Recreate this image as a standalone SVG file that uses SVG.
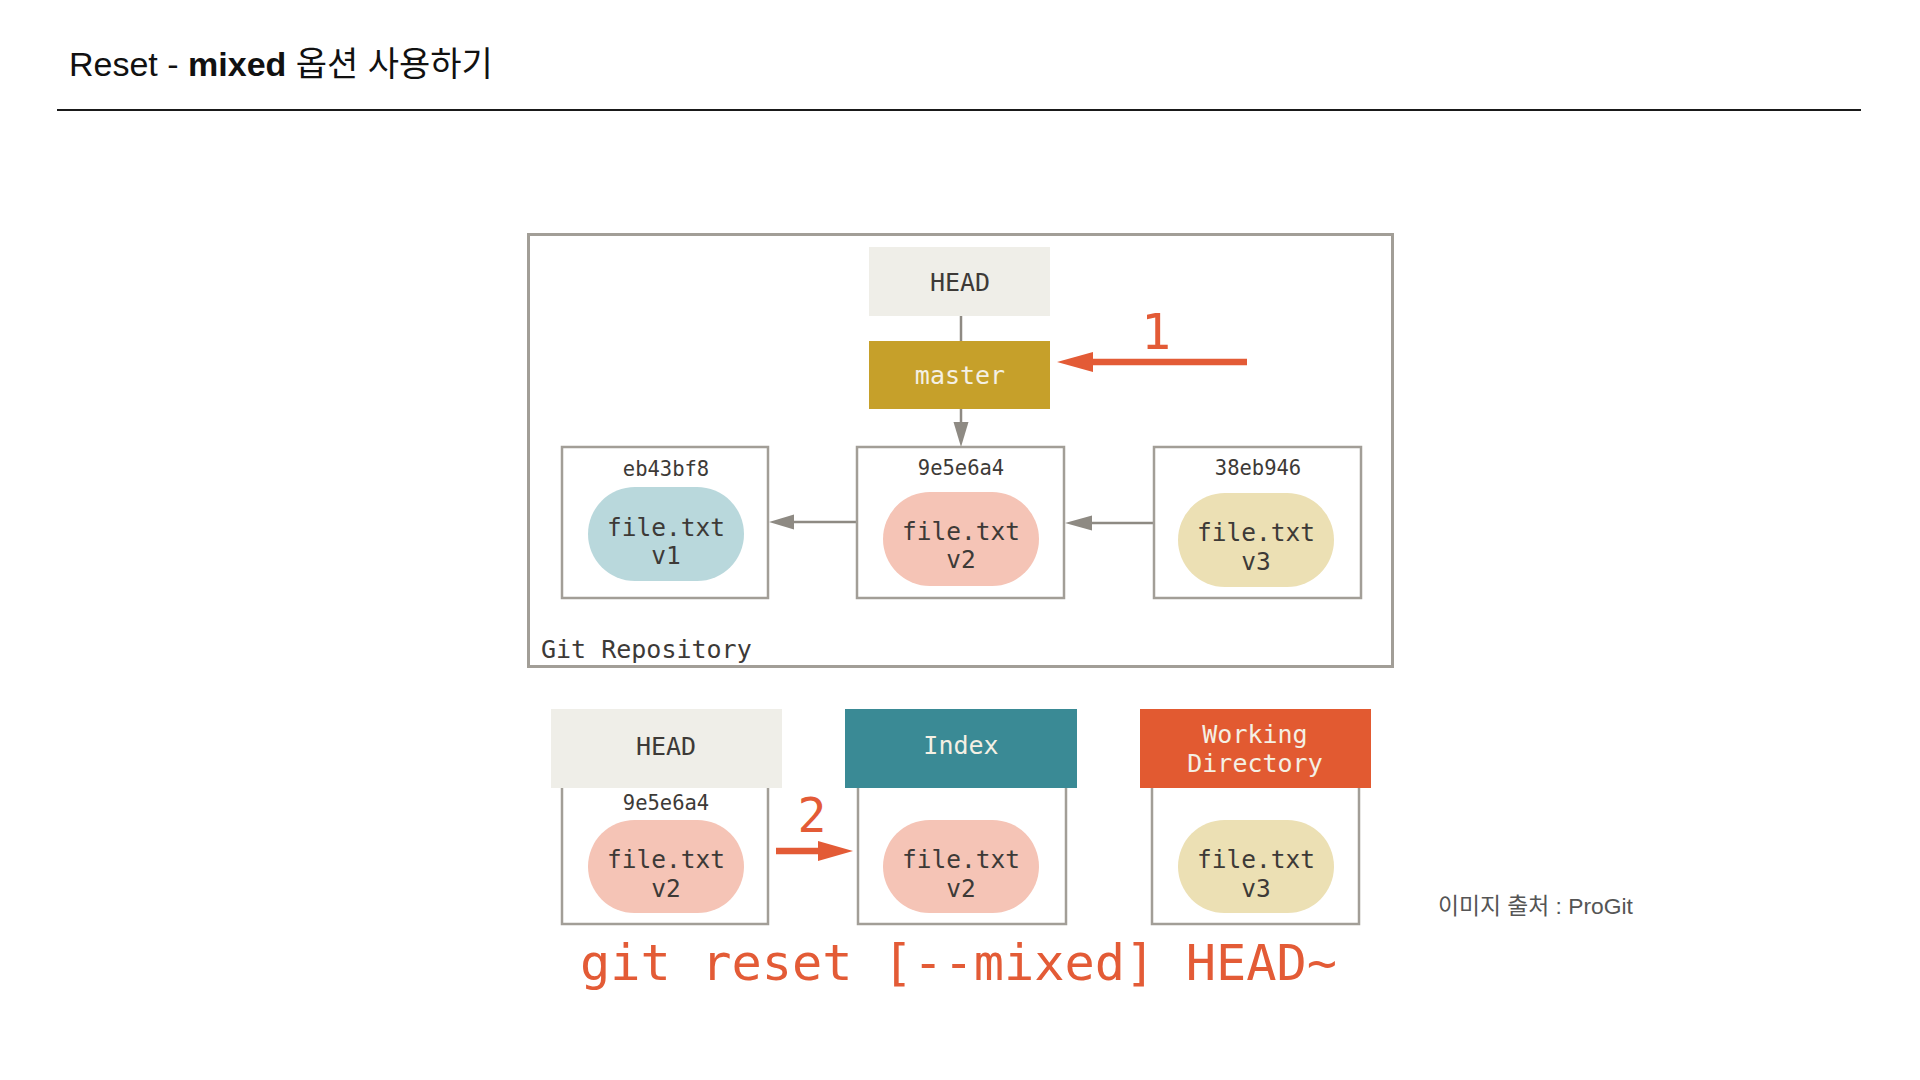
<svg xmlns="http://www.w3.org/2000/svg" width="1920" height="1080" viewBox="0 0 1920 1080">
  <style>
    .mono { font-family: "DejaVu Sans Mono", "Liberation Mono", monospace; }
    .lbl { font-size: 25px; fill: #3d3a37; text-anchor: middle; }
    .hash { font-size: 20.5px; fill: #3d3a37; text-anchor: middle; }
    .file { font-size: 24.5px; fill: #3d3a37; text-anchor: middle; }
    .box { fill: #ffffff; stroke: #a29e97; stroke-width: 2.5; }
    .conn { stroke: #8e8a83; stroke-width: 2.5; fill: none; }
    .head { fill: #8e8a83; }
    .red { fill: #e35b36; }
    .redline { stroke: #e35b36; stroke-width: 6.5; fill: none; }
  </style>
  <rect width="1920" height="1080" fill="#ffffff"/>

  <g id="title">
    <text x="69" y="76" font-family="'Liberation Sans', 'Noto Sans CJK KR', sans-serif" font-size="34" fill="#111111">Reset - <tspan font-weight="bold">mixed</tspan> 옵션 사용하기</text>
    <line x1="57" y1="110" x2="1861" y2="110" stroke="#1a1a1a" stroke-width="2"/>
  </g>

  <g id="git-repository">
    <rect x="528.5" y="234.5" width="864" height="432" fill="#ffffff" stroke="#a29e97" stroke-width="3"/>
    <text class="mono lbl" x="541" y="658" style="text-anchor:start">Git Repository</text>
  </g>

  <g id="connectors">
    <line class="conn" x1="961" y1="316" x2="961" y2="341"/>
    <line class="conn" x1="961" y1="409" x2="961" y2="425"/>
    <polygon class="head" points="953.5,422 968.5,422 961,447"/>
    <line class="conn" x1="857" y1="522" x2="790" y2="522"/>
    <polygon class="head" points="769,522 794,514.5 794,529.5"/>
    <line class="conn" x1="1154" y1="523" x2="1088" y2="523"/>
    <polygon class="head" points="1065,523 1092,515.5 1092,530.5"/>
    <line class="redline" x1="1247" y1="362" x2="1088" y2="362"/>
    <polygon class="red" points="1057,362 1093,352 1093,372"/>
    <line class="redline" x1="776" y1="851" x2="822" y2="851"/>
    <polygon class="red" points="853,851 818,841 818,861"/>
  </g>

  <g id="step-1">
    <text class="mono" x="1156" y="349" font-size="50" fill="#e35b36" text-anchor="middle">1</text>
  </g>
  <g id="step-2">
    <text class="mono" x="812" y="832" font-size="48" fill="#e35b36" text-anchor="middle">2</text>
  </g>

  <g id="head-ref">
    <rect x="869" y="247" width="181" height="69" fill="#efeee8"/>
    <text class="mono lbl" x="960" y="291">HEAD</text>
  </g>

  <g id="master">
    <rect x="869" y="341" width="181" height="68" fill="#c6a02a"/>
    <text class="mono lbl" x="960" y="384" style="fill:#f4f0e4">master</text>
  </g>

  <g id="commit-eb43bf8">
    <rect class="box" x="562" y="447" width="206" height="151"/>
    <text class="mono hash" x="666" y="476">eb43bf8</text>
    <rect x="588" y="487" width="156" height="94" rx="47" fill="#b9d8dc"/>
    <text class="mono file" x="666" y="536">file.txt</text>
    <text class="mono file" x="666" y="564">v1</text>
  </g>

  <g id="commit-9e5e6a4">
    <rect class="box" x="857" y="447" width="207" height="151"/>
    <text class="mono hash" x="961" y="475">9e5e6a4</text>
    <rect x="883" y="492" width="156" height="94" rx="47" fill="#f5c4b6"/>
    <text class="mono file" x="961" y="540">file.txt</text>
    <text class="mono file" x="961" y="568">v2</text>
  </g>

  <g id="commit-38eb946">
    <rect class="box" x="1154" y="447" width="207" height="151"/>
    <text class="mono hash" x="1258" y="475">38eb946</text>
    <rect x="1178" y="493" width="156" height="94" rx="47" fill="#ece0b4"/>
    <text class="mono file" x="1256" y="541">file.txt</text>
    <text class="mono file" x="1256" y="570">v3</text>
  </g>

  <g id="head-tree">
    <rect class="box" x="562" y="780" width="206" height="144"/>
    <rect x="551" y="709" width="231" height="79" fill="#efeee8"/>
    <text class="mono lbl" x="666" y="755">HEAD</text>
    <text class="mono hash" x="666" y="810">9e5e6a4</text>
    <rect x="588" y="820" width="156" height="93" rx="46.5" fill="#f5c4b6"/>
    <text class="mono file" x="666" y="868">file.txt</text>
    <text class="mono file" x="666" y="897">v2</text>
  </g>

  <g id="index">
    <rect class="box" x="858" y="780" width="208" height="144"/>
    <rect x="845" y="709" width="232" height="79" fill="#3a8a95"/>
    <text class="mono lbl" x="961" y="754" style="fill:#f4f0e4">Index</text>
    <rect x="883" y="820" width="156" height="93" rx="46.5" fill="#f5c4b6"/>
    <text class="mono file" x="961" y="868">file.txt</text>
    <text class="mono file" x="961" y="897">v2</text>
  </g>

  <g id="working-directory">
    <rect class="box" x="1152" y="780" width="207" height="144"/>
    <rect x="1140" y="709" width="231" height="79" fill="#e25a31"/>
    <text class="mono lbl" x="1255" y="743" style="fill:#f4f0e4">Working</text>
    <text class="mono lbl" x="1255" y="772" style="fill:#f4f0e4">Directory</text>
    <rect x="1178" y="820" width="156" height="93" rx="46.5" fill="#ece0b4"/>
    <text class="mono file" x="1256" y="868">file.txt</text>
    <text class="mono file" x="1256" y="897">v3</text>
  </g>

  <g id="command">
    <text class="mono" x="580" y="980" font-size="50.3" fill="#e35b36" xml:space="preserve">git reset [--mixed] HEAD~</text>
  </g>

  <g id="credit">
    <text x="1438" y="914" font-family="'Liberation Sans', 'Noto Sans CJK KR', sans-serif" font-size="22.8" fill="#555555">이미지 출처 : ProGit</text>
  </g>
</svg>
